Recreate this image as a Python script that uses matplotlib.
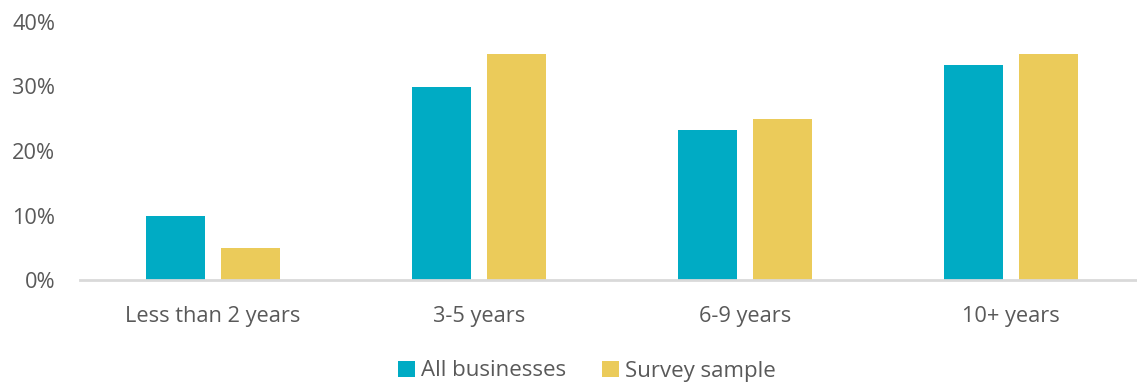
import matplotlib.pyplot as plt
import numpy as np
from matplotlib.ticker import PercentFormatter

categories = ["Less than 2 years", "3-5 years", "6-9 years", "10+ years"]
all_businesses = [10.0, 30.0, 23.3, 33.3]
survey_sample = [5.0, 35.0, 25.0, 35.0]

plt.rcParams['font.family'] = ['Open Sans', 'DejaVu Sans']
grey = '#595959'

fig = plt.figure(figsize=(11.37, 3.82), dpi=100)
ax = fig.add_axes([80 / 1137, 1 - 280 / 382, 1064 / 1137, (280 - 22) / 382])

x = np.arange(len(categories))
w = 0.222
ax.bar(x - 0.141, all_businesses, w, color='#00ABC4', label='All businesses')
ax.bar(x + 0.141, survey_sample, w, color='#EBCB5A', label='Survey sample')

ax.set_xlim(-0.5, 3.5)
ax.set_ylim(0, 40)
ax.set_yticks([0, 10, 20, 30, 40])
ax.yaxis.set_major_formatter(PercentFormatter(decimals=0))
ax.set_xticks(x)
ax.set_xticklabels(categories)
ax.tick_params(length=0, labelsize=15.7, labelcolor=grey)
ax.tick_params(axis='y', pad=18)
ax.tick_params(axis='x', pad=19)
for s in ['top', 'right', 'left']:
    ax.spines[s].set_visible(False)
ax.spines['bottom'].set_color('#D9D9D9')
ax.spines['bottom'].set_linewidth(2)
ax.spines['bottom'].set_clip_on(False)

fig.legend(loc='center', bbox_to_anchor=(587 / 1137, 1 - 371 / 382), ncol=2, frameon=False,
           fontsize=16.0, labelcolor=grey, handlelength=0.75, handleheight=0.75,
           handletextpad=0.3, columnspacing=1.6)

fig.savefig('out.png', dpi=100)
